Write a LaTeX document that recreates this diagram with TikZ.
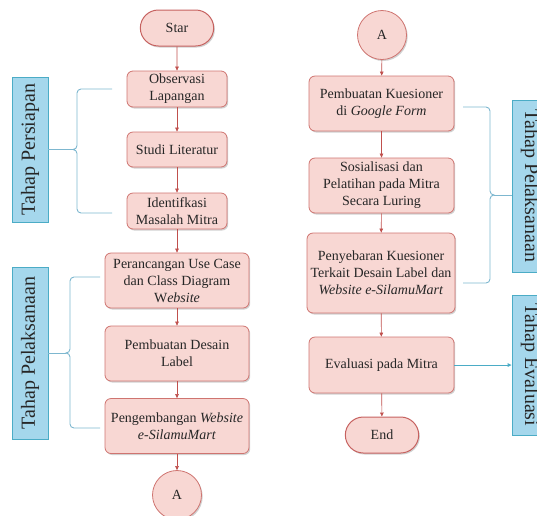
\documentclass[tikz,border=0pt]{standalone}
\usepackage{fontspec}
\setmainfont{Liberation Serif}
\usetikzlibrary{arrows.meta,shadows,shapes.misc}
\definecolor{pinkfill}{HTML}{F8D7D3}
\definecolor{pinkline}{HTML}{CF7470}
\definecolor{arrowred}{HTML}{C0504D}
\definecolor{bluefill}{HTML}{A5D7EC}
\definecolor{blueline}{HTML}{4BACC6}
\definecolor{bracecol}{HTML}{7DB7CF}
\tikzset{
  base/.style={draw=pinkline, fill=pinkfill, line width=0.8pt, align=center,
    font=\fontsize{14}{17}\selectfont, text=black!85,
    drop shadow={shadow xshift=1.2pt, shadow yshift=-1.5pt, fill=black!30, opacity=0.6}},
  proc/.style={base, rectangle, rounded corners=6pt, minimum width=#1, inner sep=1pt},
  term/.style={base, rounded rectangle, minimum width=80pt, minimum height=36pt, line width=1pt, draw=arrowred!90},
  conn/.style={base, circle, minimum size=49pt, inner sep=0pt},
  phase/.style={draw=blueline, fill=bluefill, line width=0.8pt, minimum width=36pt,
    font=\fontsize{20}{22}\selectfont, text=black!85, inner sep=0pt},
  flow/.style={draw=arrowred, line width=0.6pt, -{Triangle[length=4pt,width=3.6pt]}},
  bracel/.style={draw=bracecol, line width=0.9pt},
  bluearrow/.style={draw=bracecol, line width=0.9pt, -{Triangle[length=4pt,width=3.6pt]}, blueline}
}
\begin{document}
\begin{tikzpicture}[x=1pt,y=-1pt]
\useasboundingbox (0,0) rectangle (537,515);
% left column
\node[term] (star) at (177,28) {Star};
\node[proc=100pt, minimum height=36pt] (obs) at (177,89) {Observasi\\Lapangan};
\node[proc=100pt, minimum height=35pt] (studi) at (177,149.5) {Studi Literatur};
\node[proc=100pt, minimum height=36pt] (ident) at (177,211) {Identifkasi\\Masalah Mitra};
\node[proc=144pt, minimum height=55pt] (peran) at (177,280.5) {Perancangan Use Case\\dan Class Diagram\\W\textit{ebsite}};
\node[proc=144pt, minimum height=55pt] (desain) at (177,353.5) {Pembuatan Desain\\Label};
\node[proc=144pt, minimum height=55pt] (pengem) at (177,426) {Pengembangan \textit{Website}\\\textit{e-SilamuMart}};
\node[conn] (a1) at (177,495) {A};
% right column
\node[conn] (a2) at (382,35) {A};
\node[proc=145pt, minimum height=55pt] (kues) at (381.5,103.5) {Pembuatan Kuesioner\\di \textit{Google Form}};
\node[proc=145pt, minimum height=55pt] (sos) at (381.5,185.5) {Sosialisasi dan\\Pelatihan pada Mitra\\Secara Luring};
\node[proc=148pt, minimum height=80pt] (peny) at (381,273) {Penyebaran Kuesioner\\Terkait Desain Label dan\\\textit{Website e-SilamuMart}};
\node[proc=145pt, minimum height=56pt] (eval) at (381.5,365) {Evaluasi pada Mitra};
\node[term] (end) at (382,435) {End};
% phase boxes
\node[phase, minimum height=145pt] (tp) at (30,149.5) {\rotatebox{90}{Tahap Persiapan}};
\node[phase, minimum height=172pt] (tl) at (30,353) {\rotatebox{90}{Tahap Pelaksanaan}};
\node[phase, minimum height=172pt] (tl2) at (530,186) {\rotatebox{-90}{Tahap Pelaksanaan}};
\node[phase, minimum height=140pt] (te) at (530,365) {\rotatebox{-90}{Tahap Evaluasi}};
% flow arrows
\draw[flow] (star) -- (obs);
\draw[flow] (obs) -- (studi);
\draw[flow] (studi) -- (ident);
\draw[flow] (ident) -- (peran);
\draw[flow] (peran) -- (desain);
\draw[flow] (desain) -- (pengem);
\draw[flow] (pengem) -- (a1);
\draw[flow] (a2) -- (kues);
\draw[flow] (kues) -- (sos);
\draw[flow] (sos) -- (peny);
\draw[flow] (peny) -- (eval);
\draw[flow] (eval) -- (end);
% braces
\coordinate (b1t) at (112,89);
\coordinate (b1b) at (112,213);
\coordinate (b1m) at (73,149.5);
\draw[bracel] (b1t) -- (81,89) to[out=180,in=90] (77,93) -- (77,145.5) to[out=-90,in=0] (b1m)
  to[out=0,in=90] (77,153.5) -- (77,209) to[out=-90,in=180] (81,213) -- (b1b);
\draw[bracel] (tp.east) -- (b1m);
\coordinate (b2t) at (100,277);
\coordinate (b2b) at (100,428);
\coordinate (b2m) at (66,353);
\draw[bracel] (b2t) -- (74,277) to[out=180,in=90] (70,281) -- (70,349) to[out=-90,in=0] (b2m)
  to[out=0,in=90] (70,357) -- (70,424) to[out=-90,in=180] (74,428) -- (b2b);
\draw[bracel] (tl.east) -- (b2m);
\coordinate (b3t) at (463,107);
\coordinate (b3b) at (463,283);
\coordinate (b3m) at (494,195);
\draw[bracel] (b3t) -- (486,107) to[out=0,in=90] (490,111) -- (490,191) to[out=-90,in=180] (b3m)
  to[out=180,in=90] (490,199) -- (490,279) to[out=-90,in=0] (486,283) -- (b3b);
\draw[bracel] (b3m) -- (tl2.west |- b3m);
\draw[bluearrow] (eval) -- (te);
\end{tikzpicture}
\end{document}
